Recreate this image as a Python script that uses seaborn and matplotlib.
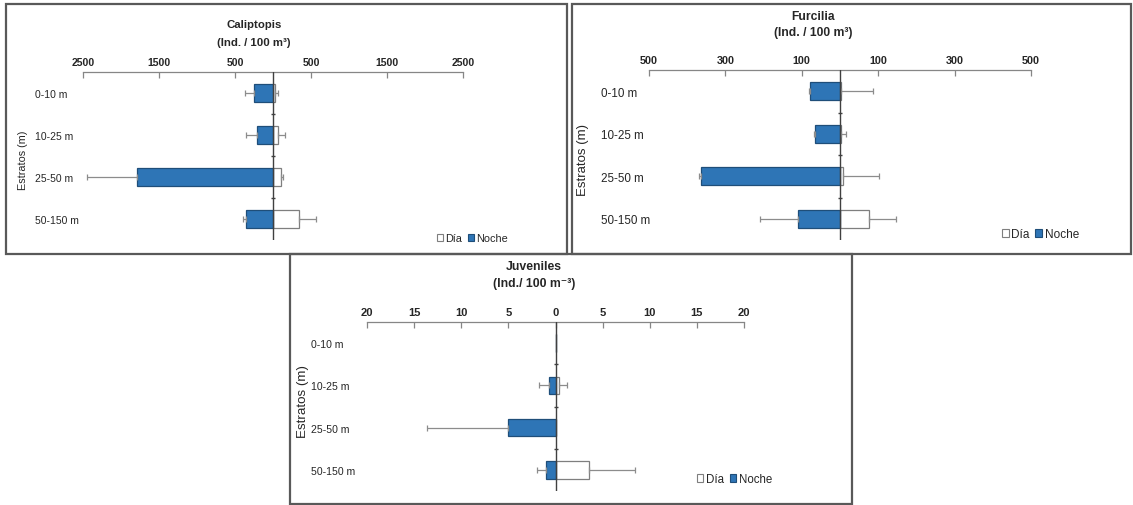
import numpy as np
import pandas as pd
import matplotlib
matplotlib.use("Agg")
import matplotlib.pyplot as plt
from matplotlib.patches import Rectangle, Patch
from matplotlib.ticker import FuncFormatter
import seaborn as sns

# ---- data -------------------------------------------------------------
estratos = ["0-10 m", "10-25 m", "25-50 m", "50-150 m"]

calip_dia = [31, 66, 101, 342]
calip_dia_err = [39, 88, 35, 219]
calip_noche = [245, 206, 1789, 355]
calip_noche_err = [127, 150, 658, 35]

furc_dia = [2, 3, 7, 75]
furc_dia_err = [84, 12, 96, 71]
furc_noche = [79, 66, 364, 109]
furc_noche_err = [3, 2, 5, 101]

juv_dia = [0, 0.39, 0, 3.57]
juv_dia_err = [0, 0.88, 0, 4.9]
juv_noche = [0, 0.64, 5.0, 0.99]
juv_noche_err = [0, 1.13, 8.6, 0.95]

calip_ticks = [-2500, -1500, -500, 500, 1500, 2500]
furc_ticks = [-500, -300, -100, 100, 300, 500]
juv_ticks = [-20, -15, -10, -5, 0, 5, 10, 15, 20]

# ---- style ------------------------------------------------------------
sns.set_theme(style="white")
plt.rcParams["font.family"] = ["Liberation Sans", "DejaVu Sans"]

BLUE = "#2E75B6"
BLUE_EDGE = "#1F4E79"
GRAY = "#868686"
TXT = "#262626"

W, H = 1133, 506
fig = plt.figure(figsize=(W / 100, H / 100), dpi=100)


def px_axes(x0, y0, x1, y1):
    return fig.add_axes([x0 / W, 1 - y1 / H, (x1 - x0) / W, (y1 - y0) / H])


def frame(x0, y0, x1, y1):
    fig.patches.append(Rectangle((x0 / W, 1 - y1 / H), (x1 - x0) / W, (y1 - y0) / H,
                                 transform=fig.transFigure, fill=False,
                                 edgecolor="#595959", lw=1.6))


def panel(box, dia, dia_err, noche, noche_err, ticks, lim, title, unit, title_x,
          title_y, title_size, tick_size, cat_size, cat_pad, ylab_size, ylab_xy,
          leg_xy, leg_size):
    ax = px_axes(*box)
    df = pd.DataFrame({
        "Estrato": estratos * 2,
        "Valor": list(dia) + [-v for v in noche],
        "Periodo": ["Día"] * 4 + ["Noche"] * 4,
    })
    sns.barplot(data=df, x="Valor", y="Estrato", hue="Periodo", order=estratos,
                hue_order=["Día", "Noche"], palette={"Día": "white", "Noche": BLUE},
                saturation=1, dodge=False, width=0.42, errorbar=None, orient="h",
                ax=ax, legend=False, linewidth=0.9)
    for bar in ax.patches:
        fc = bar.get_facecolor()
        bar.set_edgecolor(BLUE_EDGE if fc[2] < 0.9 or fc[0] < 0.5 else "#7f7f7f")

    pos = np.arange(len(estratos))
    d = np.asarray(dia, float); de = np.asarray(dia_err, float)
    n = np.asarray(noche, float); ne = np.asarray(noche_err, float)
    m = de > 0
    ax.errorbar(d[m], pos[m], xerr=[np.zeros(m.sum()), de[m]], fmt="none",
                ecolor="#8c8c8c", elinewidth=0.9, capsize=2, capthick=0.9, zorder=1)
    m = ne > 0
    ax.errorbar(-n[m], pos[m], xerr=[ne[m], np.zeros(m.sum())], fmt="none",
                ecolor="#8c8c8c", elinewidth=0.9, capsize=2, capthick=0.9, zorder=1)

    ax.axvline(0, color="#404040", lw=1.0, zorder=3)
    ax.plot(np.zeros(3), pos[:-1] + 0.5, ls="none", marker="_", ms=3,
            color="#404040", zorder=3)

    ax.set_xlim(-lim, lim)
    ax.set_ylim(len(estratos) - 0.5, -0.5)
    ax.set_xticks(ticks)
    ax.xaxis.set_major_formatter(FuncFormatter(lambda v, p: f"{abs(v):g}"))
    ax.xaxis.tick_top()
    ax.tick_params(axis="x", direction="in", length=4, width=0.9, color=GRAY,
                   pad=3.5, labelsize=tick_size, labelcolor=TXT, top=True, bottom=False)
    for lab in ax.get_xticklabels():
        lab.set_fontweight("bold")
    ax.tick_params(axis="y", length=0, pad=cat_pad, labelsize=cat_size, labelcolor=TXT)
    for lab in ax.get_yticklabels():
        lab.set_horizontalalignment("left")
    for s in ["left", "right", "bottom"]:
        ax.spines[s].set_visible(False)
    ax.spines["top"].set_color(GRAY)
    ax.spines["top"].set_linewidth(0.9)
    ax.set_xlabel("")
    ax.set_ylabel("Estratos (m)", fontsize=ylab_size, color=TXT)
    x0, y0, x1, y1 = box
    ax.yaxis.set_label_coords((ylab_xy[0] - x0) / (x1 - x0), (y1 - ylab_xy[1]) / (y1 - y0))
    ax.set_facecolor("none")

    for txt, ty in zip([title, unit], title_y):
        fig.text(title_x / W, 1 - ty / H, txt, ha="center", va="center",
                 fontsize=title_size, fontweight="bold", color=TXT)

    handles = [Patch(facecolor="white", edgecolor="#7f7f7f", lw=0.8),
               Patch(facecolor=BLUE, edgecolor=BLUE_EDGE, lw=0.8)]
    fig.legend(handles, ["Día", "Noche"], loc="center right",
               bbox_to_anchor=(leg_xy[0] / W, 1 - leg_xy[1] / H), ncol=2,
               frameon=False, fontsize=leg_size, handlelength=0.6, handleheight=0.6,
               handletextpad=0.2, columnspacing=0.5, borderpad=0, borderaxespad=0)
    return ax


panel((83, 73, 463, 241), calip_dia, calip_dia_err, calip_noche, calip_noche_err,
      calip_ticks, 2500, "Caliptopis", "(Ind. / 100 m³)", 254, (25, 43), 8.2, 7.6,
      7.5, 34.6, 7.8, (28, 160), (508, 239), 7.8)

panel((649, 71, 1031, 241), furc_dia, furc_dia_err, furc_noche, furc_noche_err,
      furc_ticks, 500, "Furcilia", "(Ind. / 100 m³)", 813, (17, 33), 8.7, 7.8,
      8.4, 34.6, 9.5, (589, 160), (1079, 235), 8.5)

panel((367, 323, 744, 492), juv_dia, juv_dia_err, juv_noche, juv_noche_err,
      juv_ticks, 20, "Juveniles", "(Ind./ 100 m⁻³)", 534, (267, 284), 8.8, 8.0,
      7.6, 40.3, 9.6, (309, 402), (772, 480), 8.3)

frame(6, 5, 567, 255)
frame(572, 5, 1131, 255)
frame(290, 255, 852, 505)

fig.savefig("out.png", dpi=100, facecolor="white")
